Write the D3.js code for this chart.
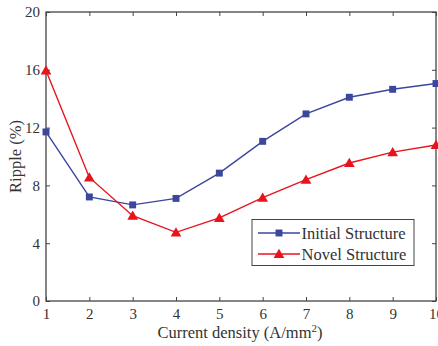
<!DOCTYPE html>
<html>
<head>
<meta charset="utf-8">
<script src="https://cdn.jsdelivr.net/npm/d3@7"></script>
<style>
  html, body { margin: 0; padding: 0; background: #fff; }
  svg { display: block; }
  text { font-family: "Liberation Serif", "DejaVu Serif", serif; fill: #333; }
</style>
</head>
<body>
<svg id="chart" width="438" height="346"></svg>
<script>
// Ripple versus current density for two motor structures
const currentDensity = [1, 2, 3, 4, 5, 6, 7, 8, 9, 10];
const initialRipple = [11.7, 7.2, 6.65, 7.1, 8.85, 11.05, 12.95, 14.1, 14.65, 15.05];
const novelRipple = [15.95, 8.55, 5.9, 4.75, 5.75, 7.15, 8.4, 9.55, 10.3, 10.8];
const xTicks = [1, 2, 3, 4, 5, 6, 7, 8, 9, 10];
const yTicks = [0, 4, 8, 12, 16, 20];
const seriesNames = ["Initial Structure", "Novel Structure"];

const blue = "#3a479c";
const red = "#e8131c";
const axisColor = "#444";

const svg = d3.select("#chart");
const m = { left: 46, right: 436, top: 12, bottom: 301 };

const x = d3.scaleLinear().domain([1, 10]).range([m.left, m.right]);
const y = d3.scaleLinear().domain([0, 20]).range([m.bottom, m.top]);

// Axes with inward ticks on all four sides
const tickLen = 4;
const fs = 15;

svg.append("g").attr("transform", `translate(0,${m.bottom})`)
  .call(d3.axisBottom(x).tickValues(xTicks).tickSize(-tickLen).tickPadding(7).tickFormat(d3.format("d")))
  .call(g => g.select(".domain").remove())
  .call(g => g.selectAll("line").attr("stroke", axisColor))
  .call(g => g.selectAll("text").attr("font-size", fs).style("fill", "#333")
    .attr("font-family", "Liberation Serif, DejaVu Serif, serif"));

svg.append("g").attr("transform", `translate(0,${m.top})`)
  .call(d3.axisTop(x).tickValues(xTicks).tickSize(-tickLen).tickFormat(""))
  .call(g => g.select(".domain").remove())
  .call(g => g.selectAll("line").attr("stroke", axisColor));

svg.append("g").attr("transform", `translate(${m.left},0)`)
  .call(d3.axisLeft(y).tickValues(yTicks).tickSize(-tickLen).tickPadding(6))
  .call(g => g.select(".domain").remove())
  .call(g => g.selectAll("line").attr("stroke", axisColor))
  .call(g => g.selectAll("text").attr("font-size", fs).style("fill", "#333")
    .attr("font-family", "Liberation Serif, DejaVu Serif, serif"));

svg.append("g").attr("transform", `translate(${m.right},0)`)
  .call(d3.axisRight(y).tickValues(yTicks).tickSize(-tickLen).tickFormat(""))
  .call(g => g.select(".domain").remove())
  .call(g => g.selectAll("line").attr("stroke", axisColor));

// Plot frame
svg.append("rect")
  .attr("x", m.left).attr("y", m.top)
  .attr("width", m.right - m.left).attr("height", m.bottom - m.top)
  .attr("fill", "none").attr("stroke", axisColor).attr("stroke-width", 1.3);

// Series
const line = d3.line().x(d => x(d[0])).y(d => y(d[1]));
const initialPts = currentDensity.map((c, i) => [c, initialRipple[i]]);
const novelPts = currentDensity.map((c, i) => [c, novelRipple[i]]);

const sq = d3.symbol().type(d3.symbolSquare).size(48);
const tri = d3.symbol().type(d3.symbolTriangle).size(50);

svg.append("path").datum(initialPts).attr("d", line)
  .attr("fill", "none").attr("stroke", blue).attr("stroke-width", 1.4);
svg.append("path").datum(novelPts).attr("d", line)
  .attr("fill", "none").attr("stroke", red).attr("stroke-width", 1.4);

svg.selectAll(".m1").data(initialPts).enter().append("path")
  .attr("transform", d => `translate(${x(d[0])},${y(d[1])})`)
  .attr("d", sq).attr("fill", blue);
svg.selectAll(".m2").data(novelPts).enter().append("path")
  .attr("transform", d => `translate(${x(d[0])},${y(d[1]) + 1})`)
  .attr("d", tri).attr("fill", red);

// Axis titles
svg.append("text")
  .attr("x", (m.left + m.right) / 2 - 1).attr("y", 338)
  .attr("text-anchor", "middle").attr("font-size", 16.5)
  .html('Current density (A/mm<tspan dy="-6" font-size="11">2</tspan><tspan dy="6">)</tspan>');

svg.append("text")
  .attr("transform", `translate(21,${(m.top + m.bottom) / 2}) rotate(-90)`)
  .attr("text-anchor", "middle").attr("font-size", 16.5)
  .text("Ripple (%)");

// Legend
const lg = svg.append("g").attr("transform", "translate(252,219.5)");
lg.append("rect").attr("width", 162).attr("height", 46)
  .attr("fill", "#fff").attr("stroke", axisColor).attr("stroke-width", 1);
const items = [
  { name: seriesNames[0], color: blue, sym: sq, dy: 0 },
  { name: seriesNames[1], color: red, sym: tri, dy: 1 }
];
items.forEach((it, i) => {
  const yy = 13.5 + i * 21;
  lg.append("line").attr("x1", 6).attr("x2", 48).attr("y1", yy).attr("y2", yy)
    .attr("stroke", it.color).attr("stroke-width", 1.4);
  lg.append("path").attr("transform", `translate(27,${yy + it.dy})`)
    .attr("d", it.sym).attr("fill", it.color);
  lg.append("text").attr("x", 49.5).attr("y", yy + 5.5)
    .attr("font-size", 16.5).text(it.name);
});
</script>
</body>
</html>
